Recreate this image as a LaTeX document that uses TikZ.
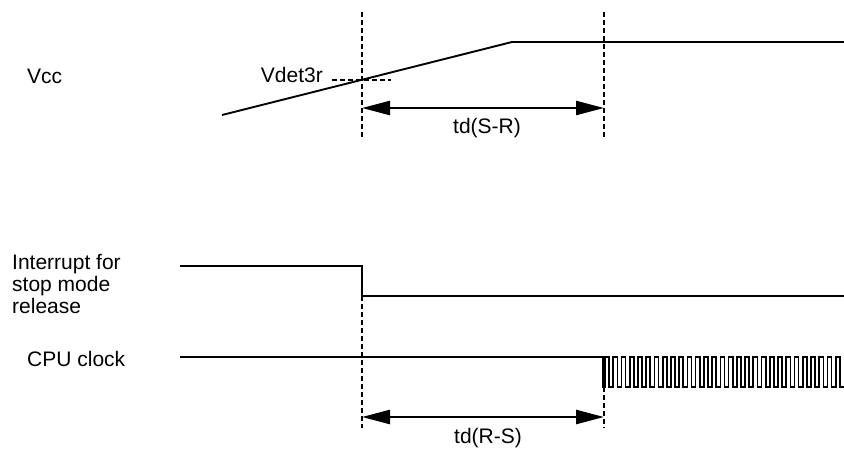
\documentclass[tikz,border=0pt]{standalone}
\usepackage{fontspec}
\setmainfont{Liberation Sans}
\usetikzlibrary{arrows.meta}
\begin{document}
\begin{tikzpicture}[x=1pt,y=-1pt,
  sig/.style={line width=1.9pt, line join=miter},
  clk/.style={line width=1.7pt, line join=miter},
  guide/.style={line width=1.4pt, dash pattern=on 4.5pt off 3.5pt},
  dimline/.style={line width=2.5pt, {Triangle[length=28pt,width=14pt]}-{Triangle[length=28pt,width=14pt]}},
  lbl/.style={font=\fontsize{21}{22}\selectfont, inner sep=0pt}]
\useasboundingbox (0,0) rectangle (844,448);

% labels
\node[lbl, anchor=base west] (vcc) at (27,83) {Vcc};
\node[lbl, anchor=base east] (vdet) at (323,82) {Vdet3r};
\node[lbl, anchor=north west, align=left] (intr) at (12,254) {Interrupt for\\stop mode\\release};
\node[lbl, anchor=base west] (cpu) at (27,366) {CPU clock};
\node[lbl] (tdsr) at (487,128) {td(S-R)};
\node[lbl] (tdrs) at (488,438) {td(R-S)};

% key coordinates
\coordinate (t1top) at (362,12);
\coordinate (t1mid) at (362,138);
\coordinate (t2top) at (604,12);
\coordinate (t2mid) at (604,138);
\coordinate (t1low) at (362,296);
\coordinate (t1bot) at (362,428);
\coordinate (t2low) at (604,387);
\coordinate (t2bot) at (604,428);

% Vcc ramp
\coordinate (vccA) at (222,115);
\coordinate (vccB) at (512,42);
\coordinate (vccC) at (844,42);
\draw[sig] (vccA) -- (vccB) -- (vccC);

% Vdet3r level
\coordinate (vdA) at (332,80);
\coordinate (vdB) at (391,80);
\draw[guide] (vdA) -- (vdB);

% timing guides
\draw[guide] (t1top) -- (t1mid);
\draw[guide] (t2top) -- (t2mid);
\draw[guide] (t1low) -- (t1bot);
\draw[guide] (t2low) -- (t2bot);

% dimension arrows
\coordinate (a1L) at (362,108);
\coordinate (a1R) at (604,108);
\draw[dimline] (a1L) -- (a1R);
\coordinate (a2L) at (362,417);
\coordinate (a2R) at (604,417);
\draw[dimline] (a2L) -- (a2R);

% interrupt signal
\coordinate (inA) at (180,266);
\coordinate (inB) at (362,266);
\coordinate (inC) at (844,296);
\draw[sig] (inA) -- (inB) |- (inC);

% CPU clock
\coordinate (ckA) at (180,357);
\coordinate (ckB) at (603,357);
\coordinate (ckC) at (603,387);
\draw[clk] (ckA) -- (ckB) -- (ckC) -- ++(2,0)
  foreach \i in {1,...,29} { -- ++(0,-30) -- ++(4.12,0) -- ++(0,30) -- ++(4.12,0) };
\end{tikzpicture}
\end{document}
